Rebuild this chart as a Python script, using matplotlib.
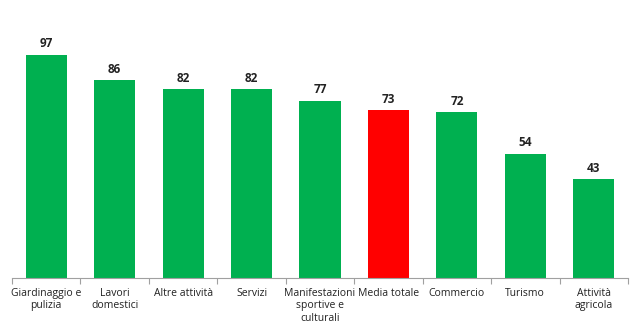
import numpy as np
import matplotlib.pyplot as plt

categories = ["Giardinaggio e\npulizia", "Lavori\ndomestici", "Altre attività", "Servizi",
              "Manifestazioni\nsportive e\nculturali", "Media totale", "Commercio",
              "Turismo", "Attività\nagricola"]
values = [97, 86, 82, 82, 77, 73, 72, 54, 43]
colors = ["#00B050"] * 5 + ["#FF0000"] + ["#00B050"] * 3

plt.rcParams['font.family'] = ['Open Sans', 'DejaVu Sans']

fig = plt.figure(figsize=(6.3, 3.23), dpi=100)
ax = fig.add_axes([12 / 630, 45 / 323, 616 / 630, 278 / 323])

x = np.arange(len(values))
bars = ax.bar(x, values, width=0.6, color=colors)
for xi, v in zip(x, values):
    ax.text(xi, v + 2, str(v), ha='center', va='bottom', fontsize=8.5, fontweight='bold', color='#222222')

ax.set_xlim(-0.5, len(values) - 0.5)
ax.set_ylim(0, 120.9)
ax.set_yticks([])
for s in ['top', 'right', 'left']:
    ax.spines[s].set_visible(False)
ax.spines['bottom'].set_color('#A0A0A0')

ax.set_xticks(np.arange(-0.5, len(values)), minor=False)
ax.set_xticklabels([])
ax.tick_params(axis='x', which='major', length=4, color='#A0A0A0', direction='out')
ax.set_xticks(x, minor=True)
ax.set_xticklabels(categories, minor=True, fontsize=7.5, color='#222222', linespacing=1.22)
ax.tick_params(axis='x', which='minor', length=0, pad=7)

fig.savefig("out.png", dpi=100)
